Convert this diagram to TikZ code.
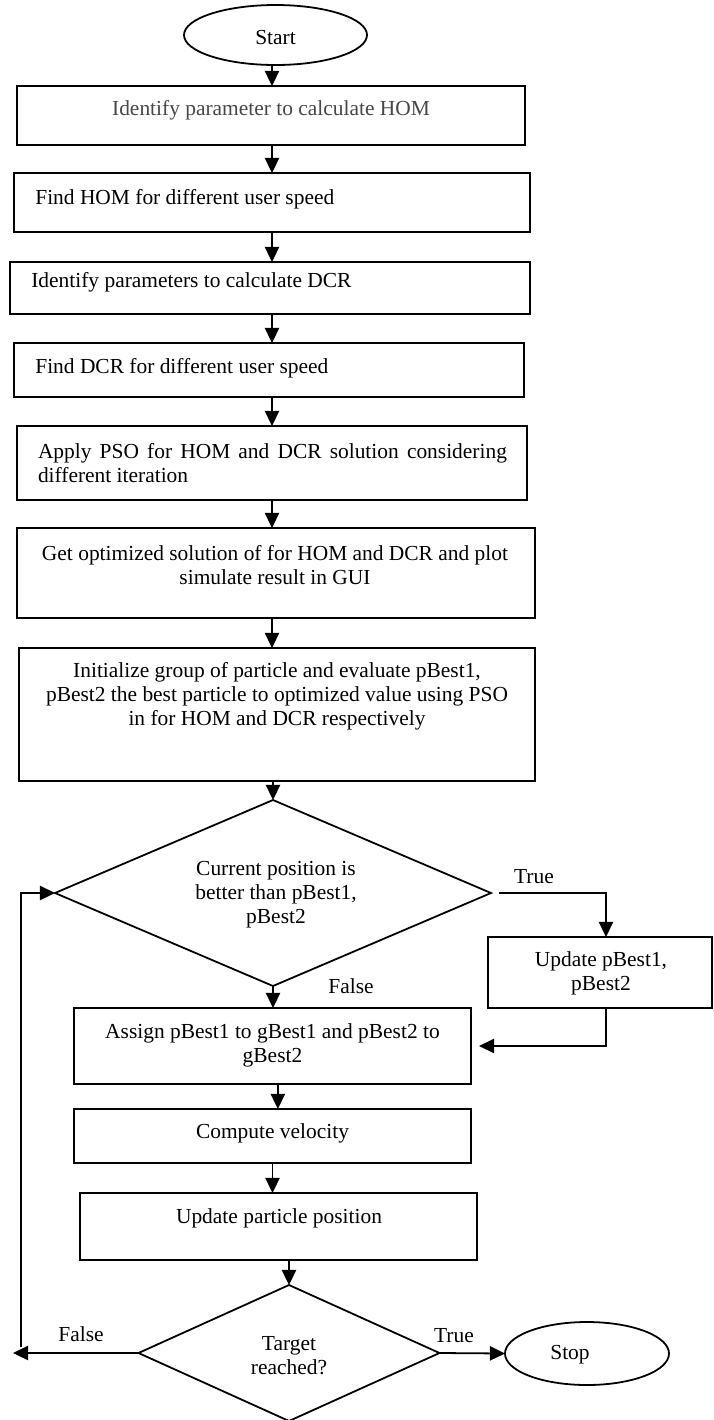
\documentclass[tikz,border=0pt]{standalone}
\usepackage{fontspec}
\setmainfont{Liberation Serif}
\usetikzlibrary{arrows.meta,shapes.geometric,fit}
\begin{document}
\begin{tikzpicture}[x=0.56pt, y=-0.56pt,
  box/.style={draw, line width=1.1pt, inner sep=0pt, outer sep=0pt},
  txt/.style={font=\fontsize{12}{13.4}\selectfont, inner sep=0pt, align=center},
  arr/.style={-{Triangle[length=8.5pt,width=8pt]}, line width=1pt},
  dia/.style={draw, diamond, line width=1pt, inner sep=0pt, outer sep=0pt},
  ell/.style={draw, ellipse, line width=1pt, inner sep=0pt, outer sep=0pt}]
\useasboundingbox (0,0) rectangle (714,1420);

% shapes
\node[ell, minimum width=183*0.56pt, minimum height=60*0.56pt] (start) at (275.5,35) {};
\node[box, fit={(17,86) (525,145)}] (b1) {};
\node[box, fit={(14,173) (530,232)}] (b2) {};
\node[box, fit={(10,262) (530,314)}] (b3) {};
\node[box, fit={(14,343) (524,397)}] (b4) {};
\node[box, fit={(17,426) (527,500)}] (b5) {};
\node[box, fit={(17,528) (535,618)}] (b6) {};
\node[box, fit={(19,648) (535,781)}] (b7) {};
\node[dia, minimum width=436*0.56pt, minimum height=186*0.56pt] (d1) at (273,893) {};
\node[box, fit={(488,937) (712,1008)}] (upd) {};
\node[box, fit={(74,1008) (471,1084)}] (asg) {};
\node[box, fit={(74,1109) (471,1163)}] (cmp) {};
\node[box, fit={(80,1193) (477,1260)}] (upp) {};
\node[dia, minimum width=301*0.56pt, minimum height=136*0.56pt] (d2) at (289,1353) {};
\node[ell, minimum width=164*0.56pt, minimum height=63*0.56pt] (stop) at (587,1353.5) {};

% texts
\node[txt] (tstart) at (275.5,38) {Start};
\node[txt, text=black!72] (t1) at (271,110) {Identify parameter to calculate HOM};
\node[txt, anchor=west] (t2) at (35,199) {Find HOM for different user speed};
\node[txt, anchor=west] (t3) at (31,282) {Identify parameters to calculate DCR};
\node[txt, anchor=west] (t4) at (35,368) {Find DCR for different user speed};
\node[txt, text width=469*0.56pt, align=justify] (t5) at (272.5,463) {Apply PSO for HOM and DCR solution considering different iteration};
\node[txt] (t6) at (275,565.5) {Get optimized solution of for HOM and DCR and plot\\simulate result in GUI};
\node[txt] (t7) at (277,696) {Initialize group of particle and evaluate pBest1,\\pBest2 the best particle to optimized value using PSO\\in for HOM and DCR respectively};
\node[txt] (td1) at (276,895) {Current position is\\better than pBest1,\\pBest2};
\node[txt] (ttrue1) at (534,877) {True};
\node[txt] (tupd) at (601,973) {Update pBest1,\\pBest2};
\node[txt] (tfalse1) at (351,986) {False};
\node[txt] (tasg) at (272.5,1045) {Assign pBest1 to gBest1 and pBest2 to\\gBest2};
\node[txt] (tcmp) at (272.5,1133) {Compute velocity};
\node[txt] (tupp) at (279,1218) {Update particle position};
\node[txt] (td2) at (289,1355.5) {Target\\reached?};
\node[txt] (ttrue2) at (454,1336) {True};
\node[txt] (tfalse2) at (81,1334) {False};
\node[txt] (tstop) at (570,1355) {Stop};

% helper coordinates
\coordinate (ax) at (272,0);
\coordinate (tx) at (606,0);
\coordinate (lb) at (13,1353);
\coordinate (lc) at (21,1347);

% connectors
\draw[arr] (start.south -| ax) -- (b1.north -| ax);
\draw[arr] (b1.south -| ax) -- (b2.north -| ax);
\draw[arr] (b2.south -| ax) -- (b3.north -| ax);
\draw[arr] (b3.south -| ax) -- (b4.north -| ax);
\draw[arr] (b4.south -| ax) -- (b5.north -| ax);
\draw[arr] (b5.south -| ax) -- (b6.north -| ax);
\draw[arr] (b6.south -| ax) -- (b7.north -| ax);
\draw[arr] (b7.south -| d1.north) -- (d1.north);
\draw[arr, shorten <=4.5pt] (d1.east) -| (tx |- upd.north);
\draw[arr, shorten >=4.5pt] (tx |- upd.south) |- (asg.east);
\draw[arr] (d1.south) -- (d1.south |- asg.north);
\draw[arr] ([xshift=3pt]asg.south) -- ([xshift=3pt]cmp.north);
\draw[arr] (cmp.south) -- (cmp.south |- upp.north);
\draw[arr] (upp.south -| d2.north) -- (d2.north);
\draw[arr] (d2.east) -- (stop.west);
\draw[arr] (d2.west) -- (lb);
\draw[arr] (lc) |- (d1.west);
\end{tikzpicture}
\end{document}
